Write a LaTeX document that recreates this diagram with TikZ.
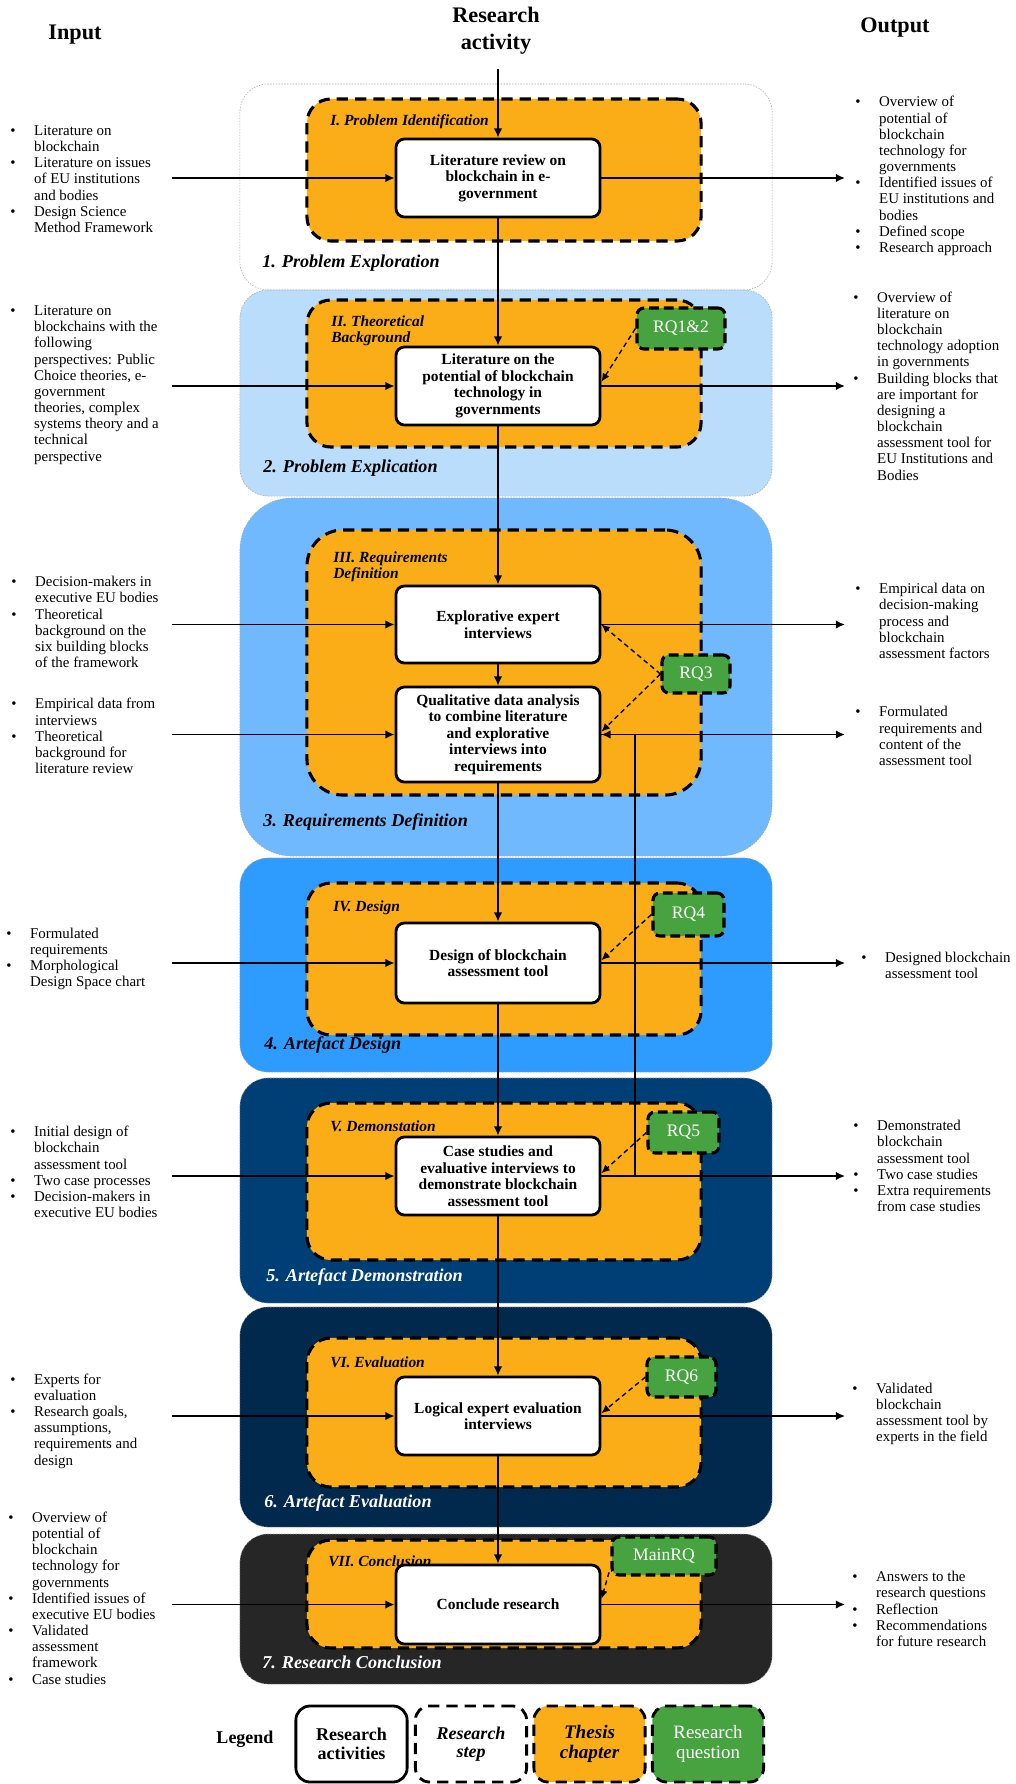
\documentclass[tikz,border=0pt]{standalone}
\usepackage{fontspec}
\setmainfont{Liberation Serif}
\usetikzlibrary{arrows.meta,calc}
\definecolor{sttwo}{HTML}{B9DDFB}
\definecolor{stthree}{HTML}{70B9FF}
\definecolor{stfour}{HTML}{2E9CFF}
\definecolor{stfive}{HTML}{003F75}
\definecolor{stsix}{HTML}{00294D}
\definecolor{stseven}{HTML}{262626}
\definecolor{orng}{HTML}{FBAD18}
\definecolor{rqgreen}{HTML}{47A33F}
\newcommand\listfont{\fontsize{10.6}{11.5}\selectfont}
\newcommand\actfont{\fontsize{11}{11.8}\selectfont\bfseries}
\newcommand\chfont{\fontsize{11}{11.6}\selectfont\bfseries\itshape}
\newcommand\stfont{\fontsize{12.9}{14}\selectfont\bfseries\itshape}
\newcommand\rqfont{\fontsize{12.5}{14}\selectfont}
\newcommand\titlefont{\fontsize{15.8}{19.2}\selectfont\bfseries}
\newcommand\legfont{\fontsize{12.8}{13.2}\selectfont}
\newcommand\bul{\makebox[17pt][l]{\textbullet}}
\newcommand\nind{\makebox[17pt][l]{}}
\begin{document}
\begin{tikzpicture}[x=0.025cm,y=-0.025cm,
  stagebox/.style={draw=gray!70, dash pattern=on 1pt off 1pt, line width=0.4pt, minimum width=13.3cm, inner sep=0pt, rounded corners=0.7cm},
  chapbox/.style={draw=black, fill=orng, dash pattern=on 8pt off 5pt, line width=2.2pt, minimum width=9.85cm, rounded corners=0.6cm, inner sep=0pt},
  actbox/.style={draw=black, fill=white, line width=2pt, rounded corners=6pt, minimum width=5.1cm, align=center, font=\actfont, inner sep=2pt},
  rqbox/.style={draw=black, fill=rqgreen, dash pattern=on 7pt off 3.5pt, line width=2.2pt, rounded corners=5pt, text=white, font=\rqfont, inner sep=0pt},
  conn/.style={line width=1.1pt, -{Latex[length=6.5pt,width=6pt]}},
  rqarr/.style={dash pattern=on 3.5pt off 2.5pt, line width=1pt, -{Latex[length=6pt,width=5.5pt]}},
  listtext/.style={align=left, anchor=west, inner sep=0pt, font=\listfont},
  stlabel/.style={anchor=west, font=\stfont, inner sep=0pt},
  chlabel/.style={anchor=west, font=\chfont, inner sep=0pt, align=left},
  legbox/.style={minimum width=2.78cm, minimum height=1.9cm, line width=2pt, rounded corners=10pt, align=center, inner sep=0pt}
]
\useasboundingbox (0,0) rectangle (1015,1784);

% titles
\node[font=\titlefont] (tin) at (75,35) {Input};
\node[font=\titlefont, align=center] (tra) at (496,30.5) {Research\\activity};
\node[font=\titlefont] (tout) at (895,28) {Output};

% stages
\node[stagebox, fill=white, minimum height=5.15cm] (s1) at (506,187) {};
\node[stagebox, fill=sttwo, minimum height=5.15cm] (s2) at (506,393) {};
\node[stagebox, fill=stthree, minimum height=8.95cm, rounded corners=1.3cm] (s3) at (506,677) {};
\node[stagebox, fill=stfour, minimum height=5.35cm] (s4) at (506,965) {};
\node[stagebox, fill=stfive, minimum height=5.625cm] (s5) at (506,1190.5) {};
\node[stagebox, fill=stsix, minimum height=5.5cm] (s6) at (506,1417) {};
\node[stagebox, fill=stseven, minimum height=3.75cm] (s7) at (506,1609) {};

% chapters
\node[chapbox, minimum height=3.55cm] (c1) at (504,170) {};
\node[chapbox, minimum height=3.675cm] (c2) at (504,373.5) {};
\node[chapbox, minimum height=6.625cm, rounded corners=0.9cm] (c3) at (504,662.5) {};
\node[chapbox, minimum height=3.8cm] (c4) at (504,959) {};
\node[chapbox, minimum height=3.925cm] (c5) at (504,1181.5) {};
\node[chapbox, minimum height=3.725cm] (c6) at (504,1412.5) {};
\node[chapbox, minimum height=2.7cm] (c7) at (504,1594) {};

\node[stlabel] (sl1) at (262,263) {1. Problem Exploration};
\node[stlabel] (sl2) at (263,468) {2. Problem Explication};
\node[stlabel] (sl3) at (263,822) {3. Requirements Definition};
\node[stlabel] (sl4) at (264,1045) {4. Artefact Design};
\node[stlabel, text=white] (sl5) at (266,1277) {5. Artefact Demonstration};
\node[stlabel, text=white] (sl6) at (264,1503) {6. Artefact Evaluation};
\node[stlabel, text=white] (sl7) at (262,1662) {7. Research Conclusion};

\node[chlabel] (cl1) at (330,122) {I. Problem Identification};
\node[chlabel] (cl2) at (331,331) {II. Theoretical\\Background};
\node[chlabel] (cl3) at (333,567) {III. Requirements\\Definition};
\node[chlabel] (cl4) at (333,908) {IV. Design};
\node[chlabel] (cl5) at (330,1126) {V. Demonstation};
\node[chlabel] (cl6) at (330,1362) {VI. Evaluation};
\node[chlabel] (cl7) at (328,1561) {VII. Conclusion};

% research questions
\node[rqbox, minimum width=2.2cm, minimum height=1.025cm] (rq12) at (681,328.5) {RQ1\&2};
\node[rqbox, minimum width=1.7cm, minimum height=0.95cm] (rq3) at (696,674) {RQ3};
\node[rqbox, minimum width=1.775cm, minimum height=1.075cm] (rq4) at (688.5,914.5) {RQ4};
\node[rqbox, minimum width=1.775cm, minimum height=1.025cm] (rq5) at (683.5,1132.5) {RQ5};
\node[rqbox, minimum width=1.725cm, minimum height=1.0cm] (rq6) at (681.5,1377) {RQ6};
\node[rqbox, minimum width=2.6cm, minimum height=0.95cm] (rqm) at (664,1556) {MainRQ};

% research activities
\node[actbox, minimum height=1.95cm] (a1) at (498,178) {Literature review on\\blockchain in e-\\government};
\node[actbox, minimum height=1.95cm] (a2) at (498,386) {Literature on the\\potential of blockchain\\technology in\\governments};
\node[actbox, minimum height=1.925cm] (a3) at (498,624.5) {Explorative expert\\interviews};
\node[actbox, minimum height=2.375cm] (a3b) at (498,734.5) {Qualitative data analysis\\to combine literature\\and explorative\\interviews into\\requirements};
\node[actbox, minimum height=2.0cm] (a4) at (498,963) {Design of blockchain\\assessment tool};
\node[actbox, minimum height=1.95cm] (a5) at (498,1176) {Case studies and\\evaluative interviews to\\demonstrate blockchain\\assessment tool};
\node[actbox, minimum height=1.95cm] (a6) at (498,1416) {Logical expert evaluation\\interviews};
\node[actbox, minimum height=1.975cm] (a7) at (498,1604.5) {Conclude research};

% inputs
\node[listtext] (in1) at (10,179) {\bul Literature on\\\nind blockchain\\\bul Literature on issues\\\nind of EU institutions\\\nind and bodies\\\bul Design Science\\\nind Method Framework};
\node[listtext] (in2) at (10,385) {\bul Literature on\\\nind blockchains with the\\\nind following\\\nind perspectives: Public\\\nind Choice theories, e-\\\nind government\\\nind theories, complex\\\nind systems theory and a\\\nind technical\\\nind perspective};
\node[listtext] (in3) at (11,622) {\bul Decision-makers in\\\nind executive EU bodies\\\bul Theoretical\\\nind background on the\\\nind six building blocks\\\nind of the framework};
\node[listtext] (in3b) at (11,736) {\bul Empirical data from\\\nind interviews\\\bul Theoretical\\\nind background for\\\nind literature review};
\node[listtext] (in4) at (6,959) {\bul Formulated\\\nind requirements\\\bul Morphological\\\nind Design Space chart};
\node[listtext] (in5) at (10,1172) {\bul Initial design of\\\nind blockchain\\\nind assessment tool\\\bul Two case processes\\\bul Decision-makers in\\\nind executive EU bodies};
\node[listtext] (in6) at (10,1421) {\bul Experts for\\\nind evaluation\\\bul Research goals,\\\nind assumptions,\\\nind requirements and\\\nind design};
\node[listtext] (in7) at (8,1598) {\bul Overview of\\\nind potential of\\\nind blockchain\\\nind technology for\\\nind governments\\\bul Identified issues of\\\nind executive EU bodies\\\bul Validated\\\nind assessment\\\nind framework\\\bul Case studies};

% outputs
\node[listtext] (out1) at (855,176) {\bul Overview of\\\nind potential of\\\nind blockchain\\\nind technology for\\\nind governments\\\bul Identified issues of\\\nind EU institutions and\\\nind bodies\\\bul Defined scope\\\bul Research approach};
\node[listtext] (out2) at (853,386) {\bul Overview of\\\nind literature on\\\nind blockchain\\\nind technology adoption\\\nind in governments\\\bul Building blocks that\\\nind are important for\\\nind designing a\\\nind blockchain\\\nind assessment tool for\\\nind EU Institutions and\\\nind Bodies};
\node[listtext] (out3) at (855,621) {\bul Empirical data on\\\nind decision-making\\\nind process and\\\nind blockchain\\\nind assessment factors};
\node[listtext] (out3b) at (855,736) {\bul Formulated\\\nind requirements and\\\nind content of the\\\nind assessment tool};
\node[listtext] (out4) at (861,965) {\bul Designed blockchain\\\nind assessment tool};
\node[listtext] (out5) at (853,1166) {\bul Demonstrated\\\nind blockchain\\\nind assessment tool\\\bul Two case studies\\\bul Extra requirements\\\nind from case studies};
\node[listtext] (out6) at (852,1414) {\bul Validated\\\nind blockchain\\\nind assessment tool by\\\nind experts in the field};
\node[listtext] (out7) at (852,1609) {\bul Answers to the\\\nind research questions\\\bul Reflection\\\bul Recommendations\\\nind for future research};

% connectors
\coordinate (topin) at (498,69);
\coordinate (instart) at (172,0);
\coordinate (outend) at (845,0);
\coordinate (fbx) at (635,0);
\draw[conn] (topin) -- (a1.north);
\foreach \p/\q in {a1/a2,a2/a3,a3/a3b,a3b/a4,a4/a5,a5/a6,a6/a7}
  \draw[conn] (\p.south) -- (\q.north);
\foreach \p in {a1,a2,a3,a3b,a4,a5,a6,a7}{
  \draw[conn] (instart |- \p.west) -- (\p.west);
  \draw[conn] (\p.east) -- (outend |- \p.east);
}
\draw[conn] (fbx |- a5.east) -- (fbx |- a3b.east) -- (a3b.east);

\draw[rqarr] (rq12.west) -- ([yshift=3pt]a2.east);
\draw[rqarr] (rq3.west) -- (a3.east);
\draw[rqarr] (rq3.west) -- ([yshift=2pt]a3b.east);
\draw[rqarr] (rq4.west) -- ([yshift=2pt]a4.east);
\draw[rqarr] (rq5.west) -- ([yshift=2pt]a5.east);
\draw[rqarr] (rq6.west) -- ([yshift=2pt]a6.east);
\draw[rqarr] ([xshift=-1pt,yshift=3pt]rqm.south west) -- ([yshift=4pt]a7.east);

% legend
\node[font=\legfont\bfseries] (leg) at (245,1739) {Legend};
\node[legbox, draw=black, fill=white, font=\legfont\bfseries] (lg1) at (351.5,1744) {Research\\activities};
\node[legbox, draw=black, fill=white, dash pattern=on 8pt off 5pt, font=\legfont\bfseries\itshape] (lg2) at (471,1744) {Research\\step};
\node[legbox, draw=black, fill=orng, dash pattern=on 8pt off 5pt, font=\fontsize{13.6}{14.5}\selectfont\bfseries\itshape] (lg3) at (589.5,1744) {Thesis\\chapter};
\node[legbox, draw=black, fill=rqgreen, dash pattern=on 8pt off 5pt, text=white, font=\fontsize{13.4}{14.5}\selectfont] (lg4) at (708,1744) {Research\\question};
\end{tikzpicture}
\end{document}
